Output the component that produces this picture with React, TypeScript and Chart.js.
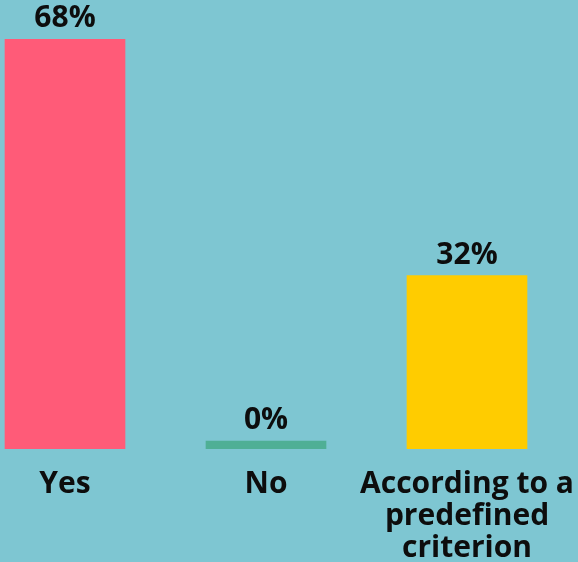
import React, { useEffect, useRef } from "react";
import { Chart, registerables } from "chart.js";
Chart.register(...registerables);

const categories: (string | string[])[] = ["Yes", "No", ["According to a", "predefined", "criterion"]];
const values = [68, 0, 32];
const barColors = ["#FF5B78", "#4FAF95", "#FFCC00"];
const bgColor = "#7EC6D2";
const textColor = "#0D0D0D";
const fontFamily = "'Open Sans', 'DejaVu Sans', sans-serif";

export default function App() {
  const ref = useRef<HTMLCanvasElement>(null);
  useEffect(() => {
    document.body.style.margin = "0";
    const labelPlugin = {
      id: "valueLabels",
      afterDatasetsDraw(chart: any) {
        const ctx = chart.ctx;
        const meta = chart.getDatasetMeta(0);
        ctx.save();
        ctx.font = `700 30px ${fontFamily}`;
        ctx.fillStyle = textColor;
        ctx.textAlign = "center";
        ctx.textBaseline = "alphabetic";
        meta.data.forEach((el: any, i: number) => {
          const top = Math.min(el.y, el.base);
          ctx.fillText(`${values[i]}%`, el.x, top - 12);
        });
        ctx.restore();
      },
    };
    const chart = new Chart(ref.current as HTMLCanvasElement, {
      type: "bar",
      data: {
        labels: categories,
        datasets: [
          {
            data: values,
            backgroundColor: barColors,
            barThickness: 120,
            minBarLength: 8,
            clip: { left: false, right: false, top: 0, bottom: 0 } as any,
          },
        ],
      },
      options: {
        animation: false,
        responsive: false,
        maintainAspectRatio: false,
        layout: { padding: { left: 65, right: 111, top: 39, bottom: 0 } },
        plugins: { legend: { display: false }, tooltip: { enabled: false } },
        scales: {
          x: {
            offset: false,
            grid: { display: false, drawTicks: false },
            border: { display: false },
            ticks: {
              color: textColor,
              font: { family: fontFamily, size: 30, weight: "bold", lineHeight: 32 / 30 },
              padding: 19,
              maxRotation: 0,
              minRotation: 0,
              autoSkip: false,
            },
            afterFit: (scale: any) => {
              scale.paddingLeft = 0;
              scale.paddingRight = 0;
              scale.height = 113;
            },
          },
          y: { display: false, min: 5.6, max: 68 },
        },
      },
      plugins: [labelPlugin],
    });
    return () => chart.destroy();
  }, []);
  return (
    <div style={{ width: 578, height: 562, background: bgColor, overflow: "hidden" }}>
      <canvas ref={ref} width={578} height={562} style={{ display: "block" }} />
    </div>
  );
}
